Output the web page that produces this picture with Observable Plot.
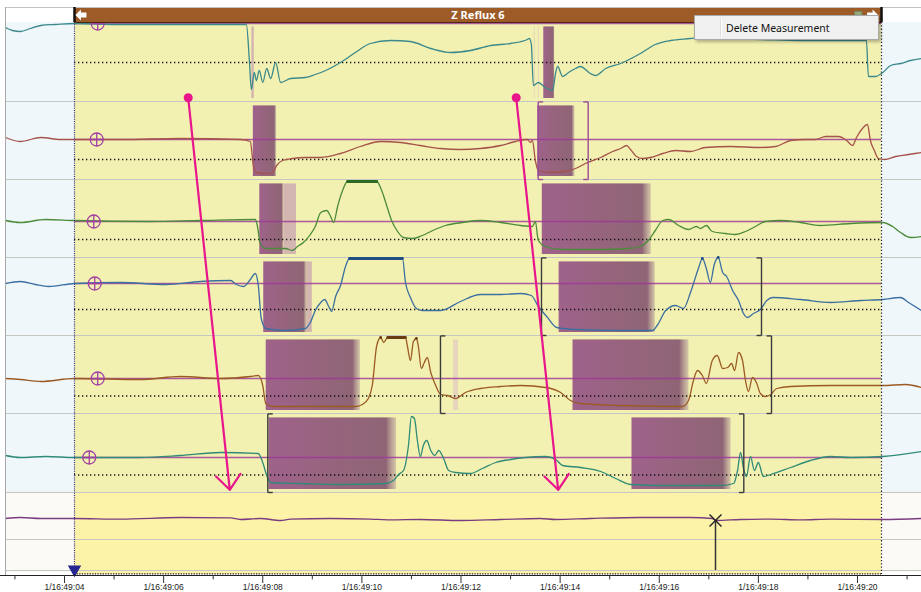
<!DOCTYPE html>
<html>
<head>
<meta charset="utf-8">
<script src="https://cdn.jsdelivr.net/npm/d3@7"></script>
<script src="https://cdn.jsdelivr.net/npm/@observablehq/plot@0.6"></script>
<style>
  body { margin: 0; background: #fff; }
  #wrap { position: relative; width: 921px; height: 592px; overflow: hidden; }
  #menu { position: absolute; left: 694px; top: 15px; width: 185px; height: 25px;
          background: #f0f0f0; border: 1px solid #a9a9a9; box-shadow: 2px 2px 3px rgba(0,0,0,0.28);
          font: 10.5px "Noto Sans", sans-serif; color: #141414; box-sizing: border-box; }
  #menu .sep { position: absolute; left: 25px; top: 2px; bottom: 2px; border-left: 1px solid #dcdcdc; border-right: 1px solid #fff; }
  #menu .item { position: absolute; left: 31px; top: 5px; white-space: nowrap; }
</style>
</head>
<body>
<div id="wrap"></div>
<script>
// ---------- scales / layout (data units: seconds after 16:49:00, stacked impedance kΩ) ----------
const xDomain = [2.7087, 21.2913];
const frameLeftT = 2.8096;
const winT = [4.2018, 20.4845];            // measurement window
const laneEdges = [3.95, 7.85, 11.75, 15.65, 19.55, 23.5, 25.85, 27.4];
const chTop = [0, 3.95, 7.85, 11.75, 15.65, 19.55];
const chBottom = [3.95, 7.85, 11.75, 15.65, 19.55, 23.5];
const chBaseline = [3.9, 2.0, 1.8, 2.6, 1.75, 1.75];   // kΩ at rest
const chColors = ["#3b898c", "#a5524b", "#4b8b39", "#3b6fa1", "#9b5a24", "#2f8a77"];
const chSat = [null, null, "#2a6a22", "#1f4f80", "#6a3a12", null];
const markerT = [4.67, 4.65, 4.59, 4.61, 4.67, 4.5];
const majorTicks = [4, 6, 8, 10, 12, 14, 16, 18, 20];
const minorTicks = [3, 5, 7, 9, 11, 13, 15, 17, 19, 21];
const title = "Z Reflux 6";
const menuItems = ["Delete Measurement"];

// ---------- impedance traces [time s, Z kΩ] ----------
const ch1 = [[2.81,3.7],[2.95,3.55],[3.11,3.5],[3.31,3.65],[3.52,3.8],[3.82,3.85],[4.2,3.9],[5.13,3.85],[6.34,3.85],[7.67,3.85],[7.73,2.05],[7.77,0.6],[7.83,1.45],[7.87,1.05],[7.93,1.55],[8.0,0.95],[8.08,1.65],[8.16,1.15],[8.26,1.95],[8.36,0.95],[8.56,1.15],[8.86,1.2],[9.06,1.35],[9.27,1.55],[9.57,1.95],[9.87,2.45],[10.17,2.9],[10.58,3.05],[10.98,3.0],[11.39,2.65],[11.79,2.45],[12.19,2.55],[12.6,2.8],[13.0,2.9],[13.34,3.1],[13.38,3.15],[13.42,2.85],[13.46,0.8],[13.56,0.95],[13.7,0.7],[13.85,0.55],[13.91,1.45],[13.95,1.75],[14.05,1.25],[14.17,1.45],[14.31,1.65],[14.41,1.75],[14.61,1.4],[14.71,1.3],[14.92,1.65],[15.22,1.9],[15.62,2.4],[15.92,2.85],[16.23,3.05],[16.63,3.15],[16.83,3.2],[17.24,3.15],[18.04,3.1],[18.85,3.05],[19.66,3.05],[20.18,3.05],[20.22,1.25],[20.36,1.25],[20.51,1.45],[20.67,1.8],[20.87,1.9],[21.07,2.05],[21.29,2.15]];
const ch2 = [[2.81,2.1],[3.11,1.9],[3.52,2.1],[3.92,2.0],[4.2,2.0],[5.13,2.0],[6.34,2.05],[7.55,2.0],[7.75,1.9],[7.81,0.7],[7.87,0.35],[8.06,0.3],[8.2,0.35],[8.28,0.7],[8.4,0.95],[8.6,1.05],[8.86,1.1],[9.17,1.1],[9.57,1.3],[9.97,1.65],[10.38,1.9],[10.78,1.85],[11.18,1.7],[11.59,1.55],[11.99,1.5],[12.39,1.55],[12.8,1.7],[13.1,1.9],[13.34,2.0],[13.4,1.85],[13.44,1.95],[13.5,0.95],[13.56,0.45],[13.81,0.35],[14.11,0.4],[14.31,0.55],[14.51,0.8],[14.82,1.1],[15.06,1.4],[15.22,1.55],[15.34,1.7],[15.42,1.5],[15.54,1.15],[15.66,1.05],[15.82,1.1],[16.07,1.3],[16.33,1.45],[16.63,1.4],[16.93,1.6],[17.44,1.65],[18.04,1.6],[18.35,1.65],[18.65,1.95],[18.95,2.0],[19.15,2.0],[19.36,2.15],[19.62,2.15],[19.78,1.95],[19.9,1.7],[19.98,2.1],[20.1,2.55],[20.2,2.75],[20.26,1.95],[20.34,1.45],[20.42,1.05],[20.55,1.0],[20.77,1.15],[21.03,1.25],[21.29,1.35]];
const ch3 = [[2.81,1.85],[3.11,1.75],[3.62,1.9],[4.2,1.85],[5.74,1.8],[6.74,1.85],[7.85,1.9],[7.89,1.6],[7.95,0.7],[8.06,0.45],[8.46,0.45],[8.6,0.35],[8.7,0.55],[8.82,0.75],[8.96,1.15],[9.06,1.55],[9.17,2.25],[9.29,2.35],[9.37,2.05],[9.43,1.75],[9.51,2.55],[9.61,3.35],[9.71,3.8],[10.3,3.8],[10.4,3.35],[10.5,2.6],[10.6,1.85],[10.72,1.3],[10.84,1.0],[11.02,0.95],[11.22,1.1],[11.43,1.35],[11.69,1.6],[12.03,1.75],[12.39,1.85],[12.8,1.75],[13.2,1.6],[13.44,1.55],[13.5,1.8],[13.56,0.85],[13.7,0.55],[14.01,0.4],[14.82,0.4],[15.38,0.45],[15.62,0.55],[15.78,0.85],[15.92,1.35],[16.07,1.85],[16.19,1.9],[16.39,1.6],[16.59,1.4],[16.75,1.55],[16.83,1.45],[16.95,1.6],[17.07,1.3],[17.34,1.2],[17.54,1.15],[17.74,1.3],[17.94,1.55],[18.14,1.8],[18.45,1.85],[18.85,1.75],[19.25,1.6],[19.86,1.7],[20.51,1.75],[20.71,1.55],[20.87,1.25],[21.07,1.0],[21.29,1.05]];
const ch4 = [[2.81,2.6],[3.11,2.7],[3.41,2.55],[3.68,2.45],[4.2,2.6],[5.13,2.65],[6.04,2.55],[6.74,2.7],[7.35,2.75],[7.47,2.55],[7.61,2.45],[7.75,2.8],[7.85,3.1],[7.91,2.5],[7.97,0.85],[8.06,0.35],[8.46,0.25],[8.86,0.35],[8.96,0.65],[9.06,1.25],[9.17,1.65],[9.25,1.8],[9.33,1.45],[9.39,1.2],[9.47,1.95],[9.57,2.5],[9.67,3.45],[9.75,3.85],[10.82,3.85],[10.88,2.65],[10.98,1.9],[11.1,1.35],[11.22,1.25],[11.59,1.25],[11.99,1.7],[12.39,2.05],[12.8,2.05],[13.2,2.1],[13.42,2.0],[13.56,1.45],[13.73,0.95],[13.93,0.4],[14.31,0.3],[15.22,0.25],[15.86,0.25],[15.97,0.55],[16.13,1.25],[16.33,1.5],[16.49,1.35],[16.63,2.15],[16.79,3.35],[16.87,3.85],[16.95,3.35],[17.03,2.65],[17.11,3.55],[17.19,3.9],[17.28,3.15],[17.36,2.95],[17.48,2.25],[17.6,1.75],[17.7,1.1],[17.78,0.9],[17.9,1.1],[18.04,1.3],[18.17,1.75],[18.29,1.9],[18.85,1.8],[19.46,1.65],[20.06,1.75],[20.51,1.8],[20.87,1.9],[21.03,1.65],[21.29,1.25]];
const ch5 = [[2.81,1.75],[3.11,1.7],[3.52,1.6],[4.2,1.75],[5.53,1.7],[6.34,1.85],[7.15,1.75],[7.75,1.85],[7.91,1.9],[8.0,1.4],[8.06,0.5],[8.2,0.35],[9.17,0.35],[9.87,0.35],[10.01,0.45],[10.13,0.75],[10.21,1.4],[10.3,3.4],[10.38,3.8],[10.44,3.55],[10.52,3.8],[10.88,3.8],[10.92,3.35],[10.98,2.65],[11.04,3.6],[11.1,3.75],[11.14,3.35],[11.2,2.25],[11.26,2.55],[11.32,2.8],[11.39,2.05],[11.49,1.4],[11.59,0.95],[11.73,0.9],[11.89,0.75],[12.09,1.05],[12.39,1.25],[12.8,1.35],[13.2,1.4],[13.71,1.3],[14.01,1.05],[14.21,0.65],[14.41,0.5],[15.22,0.4],[16.47,0.35],[16.59,0.65],[16.69,1.65],[16.77,2.15],[16.87,1.9],[16.95,1.5],[17.07,2.65],[17.17,2.9],[17.28,2.25],[17.38,2.3],[17.46,2.5],[17.52,2.15],[17.6,3.05],[17.68,2.65],[17.74,1.65],[17.8,1.1],[17.88,1.8],[17.96,1.55],[18.04,1.0],[18.14,0.85],[18.25,0.95],[18.37,1.25],[18.65,1.35],[19.46,1.4],[20.51,1.4],[20.97,1.45],[21.29,1.3]];
const ch6 = [[2.81,1.85],[3.11,1.75],[3.62,1.8],[4.2,1.75],[5.53,1.75],[6.34,1.85],[7.15,2.0],[7.91,1.95],[8.0,1.5],[8.08,0.85],[8.16,0.5],[8.76,0.45],[9.57,0.4],[10.48,0.45],[10.64,0.6],[10.74,0.9],[10.84,1.1],[10.94,2.35],[11.0,3.8],[11.06,3.7],[11.12,2.6],[11.18,1.8],[11.24,2.35],[11.31,2.6],[11.39,2.1],[11.47,1.85],[11.55,2.1],[11.65,1.7],[11.75,1.1],[11.89,1.0],[12.19,0.95],[12.43,1.2],[12.7,1.5],[13.0,1.65],[13.3,1.75],[13.71,1.8],[13.91,1.65],[14.05,1.35],[14.41,1.25],[14.82,1.05],[15.12,0.7],[15.42,0.4],[16.03,0.35],[17.24,0.35],[17.5,0.45],[17.58,1.1],[17.64,2.0],[17.7,1.2],[17.76,0.8],[17.84,1.8],[17.92,1.1],[18.0,1.5],[18.1,0.8],[18.25,0.9],[18.65,1.25],[19.05,1.6],[19.46,1.8],[19.86,1.75],[20.51,1.8],[21.29,2.05]];
const channelTraces = [ch1, ch2, ch3, ch4, ch5, ch6];

// pH channel [time s, pH]
const pH = [[2.81,5.25],[3.11,5.5],[3.52,5.25],[4.2,5.25],[5.13,5.1],[6.34,5.5],[7.35,5.4],[7.55,5.0],[7.95,5.25],[8.36,4.75],[8.56,5.1],[9.37,5.25],[10.17,5.1],[10.58,4.9],[11.18,5.0],[11.99,4.75],[12.8,5.0],[13.6,5.25],[13.91,5.0],[14.61,5.25],[15.62,5.5],[16.63,5.5],[17.07,5.25],[17.15,4.75],[17.64,5.0],[18.25,5.1],[18.85,4.9],[19.46,5.1],[20.51,5.0],[21.29,5.25]];
const pHLaneBottom = 25.85;
const pHUnit = 0.2;
const cursorT = 17.135;
const cursorPH = 4.75;

// bolus (Z < 50 %) segments [channel, start s, end s, kind]
const boluses = [[0,7.78,7.83,"l"],[0,13.48,13.5,"f"],[0,13.56,13.58,"f"],[0,13.67,13.89,"d"],
  [1,7.81,8.28,"d"],[1,13.55,14.3,"d"],
  [2,7.94,8.43,"d"],[2,8.43,8.68,"l"],[2,13.64,15.84,"d"],
  [3,8.02,8.9,"d"],[3,8.9,9.0,"l"],[3,13.98,15.92,"d"],
  [4,8.07,9.97,"d"],[4,11.85,11.95,"f"],[4,14.26,16.6,"d"],
  [5,8.13,10.7,"d"],[5,15.45,17.45,"d"]];
// measurement brackets [channel, start s, end s, colour]
const brackets = [[1,13.557,14.566,"#9b4b96"],[3,13.624,18.063,"#3a3a3a"],[4,11.586,18.265,"#3a3a3a"],[5,8.102,17.706,"#3a3a3a"]];
// annotation arrows [t1, y1, t2, y2]
const pinkArrows = [[6.496,3.765,7.335,23.365],[13.114,3.765,13.961,23.365]];

// ---------- derived tables ----------
const rows = [];
channelTraces.forEach((tr, c) => tr.forEach(([t, Z]) => rows.push({ch: c, t, Z, y: chBottom[c] - Z})));
const pHRows = pH.map(([t, v]) => ({t, y: pHLaneBottom - v * pHUnit}));
const chIdx = [0, 1, 2, 3, 4, 5];
const bolusRows = boluses.map(([ch, t0, t1, k]) => ({t0, t1, y1: chTop[ch] + 0.22, y2: chBottom[ch] - 0.15, k}));
const bracketSegs = [];
const serif = 0.1;
brackets.forEach(([ch, t0, t1, col]) => {
  const a = chTop[ch] + 0.02, b = chBottom[ch];
  bracketSegs.push({x1: t0, y1: a, x2: t0, y2: b, col}, {x1: t0, y1: a, x2: t0 + serif, y2: a, col}, {x1: t0, y1: b, x2: t0 + serif, y2: b, col});
  bracketSegs.push({x1: t1, y1: a, x2: t1, y2: b, col}, {x1: t1 - serif, y1: a, x2: t1, y2: a, col}, {x1: t1 - serif, y1: b, x2: t1, y2: b, col});
});
const arrowRows = pinkArrows.map(([x1, y1, x2, y2]) => ({x1, y1, x2, y2}));

const circlePlus = {draw(ctx, size) { const r = Math.sqrt(size / Math.PI);
  ctx.moveTo(r, 0); ctx.arc(0, 0, r, 0, 2 * Math.PI);
  ctx.moveTo(-r, 0); ctx.lineTo(r, 0); ctx.moveTo(0, -r); ctx.lineTo(0, r); }};
const arrowL = {draw(ctx, size) { const s = Math.sqrt(size / Math.PI);
  ctx.moveTo(-s, 0); ctx.lineTo(0, -s); ctx.lineTo(0, -s * 0.45); ctx.lineTo(s, -s * 0.45);
  ctx.lineTo(s, s * 0.45); ctx.lineTo(0, s * 0.45); ctx.lineTo(0, s); ctx.closePath(); }};
const arrowR = {draw(ctx, size) { const s = Math.sqrt(size / Math.PI);
  ctx.moveTo(s, 0); ctx.lineTo(0, -s); ctx.lineTo(0, -s * 0.45); ctx.lineTo(-s, -s * 0.45);
  ctx.lineTo(-s, s * 0.45); ctx.lineTo(0, s * 0.45); ctx.lineTo(0, s); ctx.closePath(); }};

const yTop = -0.75, yBot = 27.65;
const barMid = (winT[0] + winT[1]) / 2;

const chart = Plot.plot({
  width: 921, height: 592,
  marginLeft: 0, marginRight: 0, marginTop: 7, marginBottom: 17,
  x: {domain: xDomain},
  y: {domain: [yTop, yBot], reverse: true, axis: null},
  color: {type: "identity"},
  style: {fontFamily: "Liberation Sans", fontSize: "9px", color: "#222", background: "transparent"},
  marks: [
    // backgrounds
    Plot.rect([0], {x1: frameLeftT, x2: winT[0], y1: 0, y2: 23.5, fill: "#eff7fb"}),
    Plot.rect([0], {x1: frameLeftT, x2: winT[0], y1: 23.5, y2: 27.5, fill: "#fcfaf7"}),
    Plot.rect([0], {x1: winT[1], x2: xDomain[1], y1: 0, y2: 23.5, fill: "#eff7fb"}),
    Plot.rect([0], {x1: winT[1], x2: xDomain[1], y1: 23.5, y2: 27.5, fill: "#fcfaf7"}),
    Plot.rect([0], {x1: winT[0], x2: winT[1], y1: 0, y2: 23.5, fill: "#f3f1b1"}),
    Plot.rect([0], {x1: winT[0], x2: winT[1], y1: 23.5, y2: 27.6, fill: "#fcf3a9"}),
    // lane separators
    Plot.ruleY(laneEdges, {x1: frameLeftT, x2: xDomain[1], stroke: "#c6c6c2", strokeWidth: 1.2}),
    // bolus shading
    Plot.rect(bolusRows.filter(d => d.k === "d"), {x1: "t0", x2: "t1", y1: "y1", y2: "y2", fill: "url(#bolusGrad)"}),
    Plot.rect(bolusRows.filter(d => d.k === "l"), {x1: "t0", x2: "t1", y1: "y1", y2: "y2", fill: "#c9a2b2", fillOpacity: 0.75}),
    Plot.rect(bolusRows.filter(d => d.k === "f"), {x1: "t0", x2: "t1", y1: "y1", y2: "y2", fill: "#e2cdbf", fillOpacity: 0.8}),
    // 50% dotted lines
    Plot.ruleY(chIdx, {y: i => chBottom[i] - chBaseline[i] / 2, x1: winT[0], x2: winT[1], stroke: "#111", strokeWidth: 1.3, strokeDasharray: "1.3,2.7"}),
    // baselines
    Plot.ruleY(chIdx, {y: i => chBottom[i] - chBaseline[i], x1: winT[0], x2: winT[1], stroke: "#9e3799", strokeWidth: 1.7, strokeOpacity: 0.82}),
    // impedance traces
    Plot.line(rows, {x: "t", y: "y", z: "ch", stroke: d => chColors[d.ch], strokeWidth: 1.3, curve: "monotone-x"}),
    Plot.line(rows.filter(d => chSat[d.ch]), {x: "t", y: d => d.Z >= 3.75 ? d.y : NaN, z: "ch", stroke: d => chSat[d.ch], strokeWidth: 2.8}),
    // brackets
    Plot.link(bracketSegs, {x1: "x1", y1: "y1", x2: "x2", y2: "y2", stroke: "col", strokeWidth: 1.4}),
    // channel markers
    Plot.dot(chIdx, {x: i => markerT[i], y: i => chBottom[i] - chBaseline[i], r: 6.5, symbol: circlePlus, stroke: "#a23fa2", strokeWidth: 1.3, fill: "none"}),
    // pH channel
    Plot.line(pHRows, {x: "t", y: "y", stroke: "#7a3c80", strokeWidth: 1.3, curve: "monotone-x"}),
    Plot.ruleX([cursorT], {y1: pHLaneBottom - cursorPH * pHUnit, y2: 27.4, stroke: "#333", strokeWidth: 1.5}),
    Plot.dot([cursorT], {x: d => d, y: pHLaneBottom - cursorPH * pHUnit, symbol: "times", r: 5.5, stroke: "#222", strokeWidth: 1.4}),
    // window edges
    Plot.ruleX([winT[0]], {y1: 0, y2: 27.6, stroke: "#2b2b94", strokeWidth: 1.2, strokeDasharray: "1,1.2"}),
    Plot.ruleX([winT[1]], {y1: 0, y2: 27.6, stroke: "#222", strokeWidth: 1.2, strokeDasharray: "1.3,2"}),
    Plot.ruleY([27.57], {x1: winT[0], x2: winT[1], stroke: "#222", strokeWidth: 1.2, strokeDasharray: "1.3,1.3"}),
    Plot.dot([winT[0]], {x: d => d, y: 27.35, symbol: "triangle", rotate: 180, r: 5, fill: "#262690"}),
    // pink annotation arrows
    Plot.arrow(arrowRows, {x1: "x1", y1: "y1", x2: "x2", y2: "y2", stroke: "#e8158c", strokeWidth: 2.2, headLength: 13, headAngle: 80}),
    Plot.dot(arrowRows, {x: "x1", y: "y1", r: 4.5, fill: "#e8158c"}),
    // header bar
    Plot.rect([0], {x1: frameLeftT, x2: xDomain[1], y1: yTop, y2: 0, fill: "#ffffff"}),
    Plot.rect([0], {x1: winT[0], x2: winT[1], y1: yTop, y2: 0, fill: "#9d5c27"}),
    Plot.ruleY([yTop], {x1: frameLeftT, x2: xDomain[1], stroke: "#c4c4c4"}),
    Plot.ruleY([0], {x1: winT[0], x2: winT[1], stroke: "#4a2a10", strokeWidth: 1}),
    Plot.ruleX(winT, {y1: yTop, y2: 0, stroke: "#111", strokeWidth: 2.5}),
    Plot.ruleX([frameLeftT], {y1: yTop, y2: yBot, stroke: "#a8a8a8"}),
    Plot.text([title], {x: barMid, y: yTop / 2, text: d => d, fill: "#fff", fontWeight: "bold", fontSize: 11, fontFamily: "Noto Sans"}),
    Plot.dot([winT[0] + 0.13], {x: d => d, y: yTop / 2, symbol: arrowL, r: 5.5, fill: "#fff"}),
    Plot.dot([winT[1] - 0.18], {x: d => d, y: yTop / 2, symbol: arrowR, r: 5.5, fill: "#fff"}),
    Plot.dot([winT[1] - 0.47], {x: d => d, y: yTop / 2, symbol: "square", r: 4.2, fill: "#93a97c", stroke: "#6c8256", strokeWidth: 0.8}),
    // time axis
    Plot.ruleY([yBot], {x1: xDomain[0], x2: xDomain[1], stroke: "#222", strokeWidth: 1}),
    Plot.ruleX(minorTicks, {y1: yBot, y2: yBot + 0.22, stroke: "#333"}),
    Plot.axisX(majorTicks, {anchor: "bottom", tickSize: 8, tickPadding: 0, fontSize: 8.5, stroke: "#333",
      tickFormat: d => `1/16:49:${String(d).padStart(2, "0")}`})
  ]
});

// gradient for bolus shading
const svg = d3.select(chart);
const grad = svg.insert("defs", ":first-child").append("linearGradient").attr("id", "bolusGrad");
[["0%", "#9f628b", 1], ["45%", "#97647e", 1], ["92%", "#8f6576", 1], ["100%", "#a88894", 0.4]]
  .forEach(([o, c, a]) => grad.append("stop").attr("offset", o).attr("stop-color", c).attr("stop-opacity", a));

const wrap = document.getElementById("wrap");
wrap.appendChild(chart);
const menu = document.createElement("div");
menu.id = "menu";
menu.innerHTML = `<div class="sep"></div>` + menuItems.map(m => `<div class="item">${m}</div>`).join("");
wrap.appendChild(menu);
</script>
</body>
</html>
